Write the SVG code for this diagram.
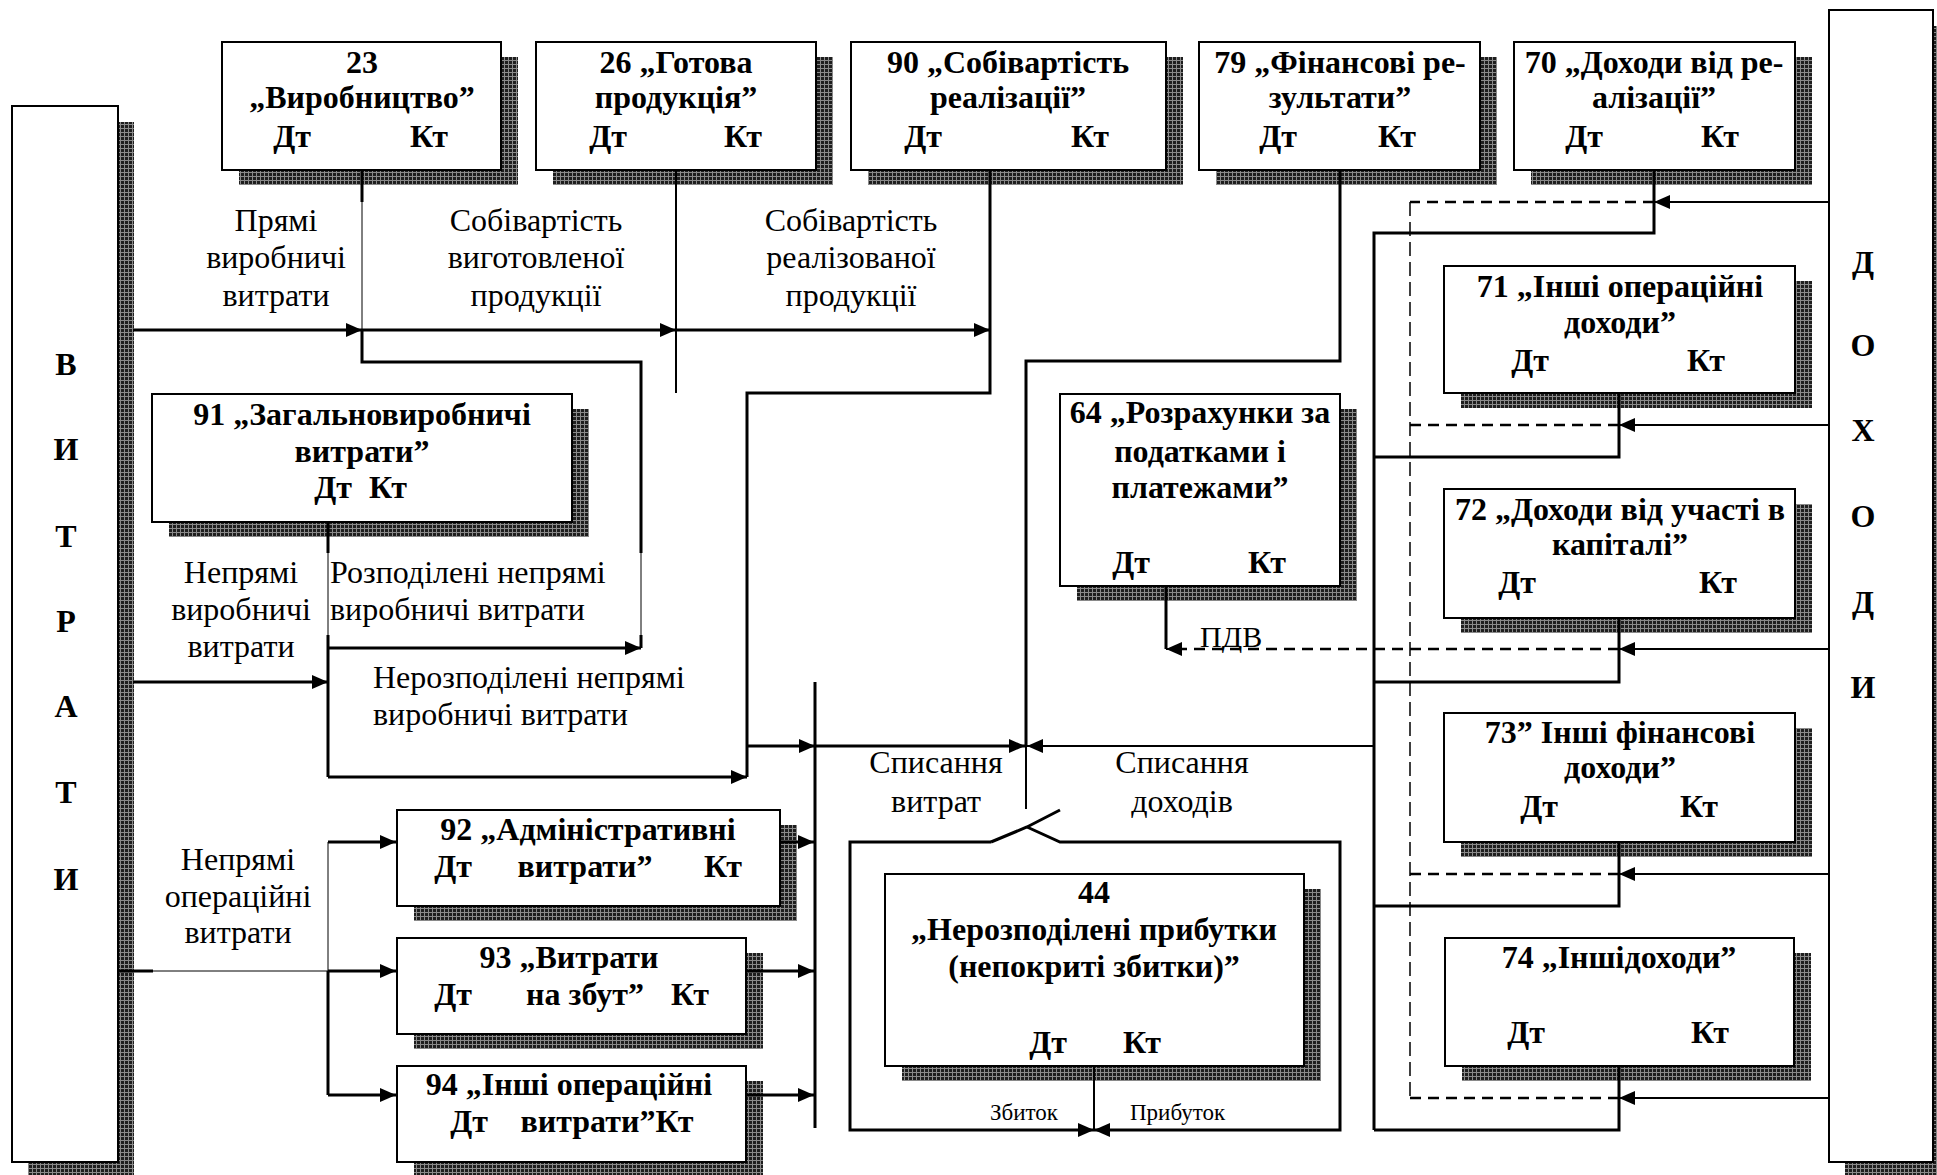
<svg xmlns="http://www.w3.org/2000/svg" width="1937" height="1175" viewBox="0 0 1937 1175">
<defs>
<pattern id="pt" width="4" height="4" patternUnits="userSpaceOnUse"><rect width="4" height="4" fill="#1e1e1e"/><rect width="4" height="1" fill="#8a8a8a"/><rect width="1" height="4" fill="#8a8a8a"/></pattern>
<marker id="ah" markerUnits="userSpaceOnUse" markerWidth="16" markerHeight="14" refX="16" refY="7" orient="auto"><path d="M0,0 L16,7 L0,14 z" fill="#000"/></marker>
<style>
.box{fill:#fff;stroke:#000;stroke-width:2}
.sh{fill:url(#pt)}
text{font-family:"Liberation Serif","Times New Roman",serif;font-size:32px;fill:#000}
.b{font-weight:bold;text-anchor:middle}
.r{text-anchor:middle}
.l{text-anchor:start}
.s{font-size:23px}
.c{fill:none;stroke:#000;stroke-width:3}
.m{fill:none;stroke:#000;stroke-width:2}
.th{fill:none;stroke:#000;stroke-width:1}
.d{fill:none;stroke:#000;stroke-width:2.5;stroke-dasharray:11 7}
.d2{fill:none;stroke:#000;stroke-width:1.5;stroke-dasharray:14 6}
</style>
</defs>
<rect width="1937" height="1175" fill="#fff"/>

<g id="vytraty">
<rect class="sh" x="28" y="122" width="106" height="1056"/>
<rect class="box" x="12" y="106" width="106" height="1056"/>
<text class="b" x="66" y="375">В</text>
<text class="b" x="66" y="460">И</text>
<text class="b" x="66" y="547">Т</text>
<text class="b" x="66" y="632">Р</text>
<text class="b" x="66" y="717">А</text>
<text class="b" x="66" y="803">Т</text>
<text class="b" x="66" y="890">И</text>
</g>

<g id="dokhody">
<rect class="sh" x="1845" y="26" width="104" height="1156"/>
<rect class="box" x="1829" y="10" width="104" height="1152"/>
<text class="b" x="1863" y="273">Д</text>
<text class="b" x="1863" y="356">О</text>
<text class="b" x="1863" y="441">Х</text>
<text class="b" x="1863" y="527">О</text>
<text class="b" x="1863" y="613">Д</text>
<text class="b" x="1863" y="698">И</text>
</g>

<g id="acc23">
<rect class="sh" x="239" y="57" width="279" height="128"/>
<rect class="box" x="222" y="42" width="279" height="128"/>
<text class="b" x="362" y="73">23</text>
<text class="b" x="362" y="108">„Виробництво”</text>
<text class="b" x="292" y="147">Дт</text>
<text class="b" x="429" y="147">Кт</text>
</g>

<g id="acc26">
<rect class="sh" x="553" y="57" width="280" height="128"/>
<rect class="box" x="536" y="42" width="280" height="128"/>
<text class="b" x="676" y="73">26 „Готова</text>
<text class="b" x="676" y="108">продукція”</text>
<text class="b" x="608" y="147">Дт</text>
<text class="b" x="743" y="147">Кт</text>
</g>

<g id="acc90">
<rect class="sh" x="868" y="57" width="315" height="128"/>
<rect class="box" x="851" y="42" width="315" height="128"/>
<text class="b" x="1008" y="73">90 „Собівартість</text>
<text class="b" x="1008" y="108">реалізації”</text>
<text class="b" x="923" y="147">Дт</text>
<text class="b" x="1090" y="147">Кт</text>
</g>

<g id="acc79">
<rect class="sh" x="1216" y="57" width="281" height="128"/>
<rect class="box" x="1199" y="42" width="281" height="128"/>
<text class="b" x="1340" y="73">79 „Фінансові ре-</text>
<text class="b" x="1340" y="108">зультати”</text>
<text class="b" x="1278" y="147">Дт</text>
<text class="b" x="1397" y="147">Кт</text>
</g>

<g id="acc70">
<rect class="sh" x="1531" y="57" width="281" height="128"/>
<rect class="box" x="1514" y="42" width="281" height="128"/>
<text class="b" x="1654" y="73">70 „Доходи від ре-</text>
<text class="b" x="1654" y="108">алізації”</text>
<text class="b" x="1584" y="147">Дт</text>
<text class="b" x="1720" y="147">Кт</text>
</g>

<g id="acc91">
<rect class="sh" x="169" y="409" width="420" height="128"/>
<rect class="box" x="152" y="394" width="420" height="128"/>
<text class="b" x="362" y="425">91 „Загальновиробничі</text>
<text class="b" x="362" y="462">витрати”</text>
<text class="b" x="333" y="498">Дт</text>
<text class="b" x="388" y="498">Кт</text>
</g>

<g id="acc64">
<rect class="sh" x="1077" y="409" width="280" height="192"/>
<rect class="box" x="1060" y="394" width="280" height="192"/>
<text class="b" x="1200" y="423">64 „Розрахунки за</text>
<text class="b" x="1200" y="462">податками і</text>
<text class="b" x="1200" y="498">платежами”</text>
<text class="b" x="1131" y="573">Дт</text>
<text class="b" x="1267" y="573">Кт</text>
</g>

<g id="acc71">
<rect class="sh" x="1461" y="281" width="351" height="127"/>
<rect class="box" x="1444" y="266" width="351" height="127"/>
<text class="b" x="1620" y="297">71 „Інші операційні</text>
<text class="b" x="1620" y="333">доходи”</text>
<text class="b" x="1530" y="371">Дт</text>
<text class="b" x="1706" y="371">Кт</text>
</g>

<g id="acc72">
<rect class="sh" x="1461" y="504" width="351" height="129"/>
<rect class="box" x="1444" y="489" width="351" height="129"/>
<text class="b" x="1620" y="520">72 „Доходи від участі в</text>
<text class="b" x="1620" y="555">капіталі”</text>
<text class="b" x="1517" y="593">Дт</text>
<text class="b" x="1718" y="593">Кт</text>
</g>

<g id="acc73">
<rect class="sh" x="1461" y="728" width="351" height="129"/>
<rect class="box" x="1444" y="713" width="351" height="129"/>
<text class="b" x="1620" y="743">73” Інші фінансові</text>
<text class="b" x="1620" y="778">доходи”</text>
<text class="b" x="1539" y="817">Дт</text>
<text class="b" x="1699" y="817">Кт</text>
</g>

<g id="acc74">
<rect class="sh" x="1462" y="953" width="349" height="128"/>
<rect class="box" x="1445" y="938" width="349" height="128"/>
<text class="b" x="1619" y="968">74 „Іншідоходи”</text>
<text class="b" x="1526" y="1043">Дт</text>
<text class="b" x="1710" y="1043">Кт</text>
</g>

<g id="acc44">
<rect class="sh" x="902" y="889" width="419" height="192"/>
<rect class="box" x="885" y="874" width="419" height="192"/>
<text class="b" x="1094" y="903">44</text>
<text class="b" x="1094" y="940">„Нерозподілені прибутки</text>
<text class="b" x="1094" y="977">(непокриті збитки)”</text>
<text class="b" x="1048" y="1053">Дт</text>
<text class="b" x="1142" y="1053">Кт</text>
</g>

<g id="acc92">
<rect class="sh" x="414" y="825" width="383" height="96"/>
<rect class="box" x="397" y="810" width="383" height="96"/>
<text class="b" x="588" y="840">92 „Адміністративні</text>
<text class="b" x="453" y="877">Дт</text>
<text class="b" x="585" y="877">витрати”</text>
<text class="b" x="723" y="877">Кт</text>
</g>

<g id="acc93">
<rect class="sh" x="414" y="953" width="349" height="96"/>
<rect class="box" x="397" y="938" width="349" height="96"/>
<text class="b" x="569" y="968">93 „Витрати</text>
<text class="b" x="453" y="1005">Дт</text>
<text class="b" x="585" y="1005">на збут”</text>
<text class="b" x="690" y="1005">Кт</text>
</g>

<g id="acc94">
<rect class="sh" x="414" y="1081" width="349" height="96"/>
<rect class="box" x="397" y="1066" width="349" height="96"/>
<text class="b" x="569" y="1095">94 „Інші операційні</text>
<text class="b" x="469" y="1132">Дт</text>
<text class="b" x="607" y="1132">витрати”Кт</text>
</g>

<g id="connectors">
<path class="c" d="M133,330 H362" marker-end="url(#ah)"/>
<path class="c" d="M362,330 H676" marker-end="url(#ah)"/>
<path class="c" d="M676,330 H990" marker-end="url(#ah)"/>
<path class="c" d="M362,170 V202"/>
<path class="th" d="M362,202 V330"/>
<path class="c" d="M362,330 V362 H641 V553"/>
<path class="th" d="M641,553 V635"/>
<path class="c" d="M641,635 V648"/>
<path class="m" d="M676,170 V393"/>
<path class="c" d="M990,170 V393 H747 V777"/>
<path class="c" d="M328,522 V553"/>
<path class="th" d="M328,553 V635"/>
<path class="c" d="M328,635 V777"/>
<path class="c" d="M133,682 H328" marker-end="url(#ah)"/>
<path class="c" d="M328,648 H641" marker-end="url(#ah)"/>
<path class="c" d="M328,777 H747" marker-end="url(#ah)"/>
<path class="c" d="M747,746 H815" marker-end="url(#ah)"/>
<path class="c" d="M815,682 V1128"/>
<path class="c" d="M815,746 H1025" marker-end="url(#ah)"/>
<path class="m" d="M1374,746 H1027" marker-end="url(#ah)"/>
<path class="c" d="M1340,170 V361 H1026 V746"/>
<path class="m" d="M1026,746 V809"/>
<path class="c" d="M991,842 L1027,827 L1060,810"/>
<path class="c" d="M1027,827 L1060,842 H1340 V1130 H1094" marker-end="url(#ah)"/>
<path class="c" d="M991,842 H850 V1130 H1094" marker-end="url(#ah)"/>
<path class="m" d="M1094,1066 V1130"/>

<path class="c" d="M118,971 H153"/>
<path class="th" d="M153,971 H328 M328,842 V971"/>
<path class="c" d="M328,971 V1095"/>
<path class="c" d="M328,842 H396" marker-end="url(#ah)"/>
<path class="c" d="M328,971 H396" marker-end="url(#ah)"/>
<path class="c" d="M328,1095 H396" marker-end="url(#ah)"/>
<path class="c" d="M780,842 H814" marker-end="url(#ah)"/>
<path class="c" d="M746,971 H814" marker-end="url(#ah)"/>
<path class="c" d="M746,1095 H814" marker-end="url(#ah)"/>

<path class="c" d="M1166,586 V649"/>
<path class="d" d="M1619,649 H1180"/>
<path class="m" d="M1182,649 H1166" marker-end="url(#ah)"/>

<path class="c" d="M1654,170 V233 H1374 V1130"/>
<path class="c" d="M1619,393 V457 H1374"/>
<path class="c" d="M1619,618 V682 H1374"/>
<path class="c" d="M1619,842 V906 H1374"/>
<path class="c" d="M1619,1066 V1130 H1374"/>
<path class="m" d="M1829,202 H1654" marker-end="url(#ah)"/>
<path class="m" d="M1829,425 H1619" marker-end="url(#ah)"/>
<path class="m" d="M1829,649 H1619" marker-end="url(#ah)"/>
<path class="m" d="M1829,874 H1619" marker-end="url(#ah)"/>
<path class="m" d="M1829,1098 H1619" marker-end="url(#ah)"/>
<path class="d" d="M1654,202 H1410"/>
<path class="d" d="M1619,425 H1410"/>
<path class="d" d="M1619,874 H1410"/>
<path class="d" d="M1619,1098 H1410"/>
<path class="d2" d="M1410,202 V1098"/>
</g>

<g id="labels">
<text class="r" x="276" y="231">Прямі</text>
<text class="r" x="276" y="268">виробничі</text>
<text class="r" x="276" y="306">витрати</text>
<text class="r" x="536" y="231">Собівартість</text>
<text class="r" x="536" y="268">виготовленої</text>
<text class="r" x="536" y="306">продукції</text>
<text class="r" x="851" y="231">Собівартість</text>
<text class="r" x="851" y="268">реалізованої</text>
<text class="r" x="851" y="306">продукції</text>
<text class="r" x="241" y="583">Непрямі</text>
<text class="r" x="241" y="620">виробничі</text>
<text class="r" x="241" y="657">витрати</text>
<text class="l" x="330" y="583">Розподілені непрямі</text>
<text class="l" x="330" y="620">виробничі витрати</text>
<text class="l" x="373" y="688">Нерозподілені непрямі</text>
<text class="l" x="373" y="725">виробничі витрати</text>
<text class="r" x="936" y="773">Списання</text>
<text class="r" x="936" y="812">витрат</text>
<text class="r" x="1182" y="773">Списання</text>
<text class="r" x="1182" y="812">доходів</text>
<text class="r" x="238" y="870">Непрямі</text>
<text class="r" x="238" y="907">операційні</text>
<text class="r" x="238" y="943">витрати</text>
<text class="l" x="1200" y="647" style="font-size:30px">ПДВ</text>
<text class="l s" x="990" y="1120">Збиток</text>
<text class="l s" x="1130" y="1120">Прибуток</text>
</g>
</svg>
